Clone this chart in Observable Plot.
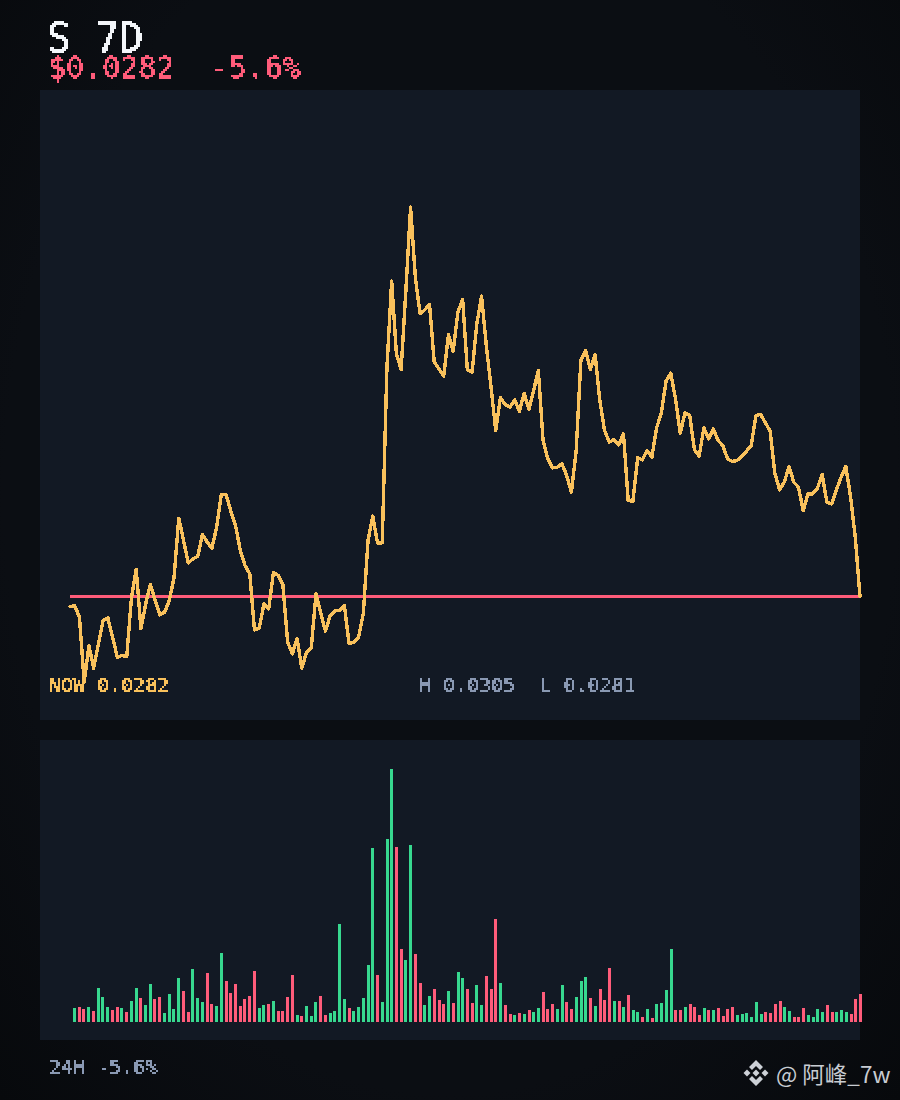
<!DOCTYPE html>
<html>
<head>
<meta charset="utf-8">
<script src="https://cdn.jsdelivr.net/npm/d3@7"></script>
<script src="https://cdn.jsdelivr.net/npm/@observablehq/plot@0.6"></script>
<style>
  html, body { margin: 0; padding: 0; background: #0a0d12; }
  #page { position: relative; width: 900px; height: 1100px; overflow: hidden;
          background: radial-gradient(ellipse at 50% 45%, #0b0e13 70%, #07090c 100%); }
  .mono { position: absolute; font-family: "DejaVu Sans Mono", monospace; white-space: pre; line-height: 1; filter: url(#pixel); }
  #title { left: 47px; top: 22px; font-size: 40px; line-height: 32px; height: 32px; color: #f3f6fa; }
  #quote { left: 48px; top: 56px; font-size: 30px; line-height: 24px; height: 24px; color: #ff5c7a; }
  #foot  { left: 49px; top: 1057px; font-size: 20px; color: #8a99b3; }
  #now   { left: 49px; top: 675px; font-size: 20px; color: #f9c15c; }
  #range { left: 419px; top: 675px; font-size: 20px; color: #8a99b3; }
  #pricePanel, #volumePanel { position: absolute; left: 40px; background: #121924; }
  #pricePanel { top: 90px; width: 820px; height: 630px; }
  #volumePanel { top: 740px; width: 820px; height: 300px; }
  #pricePanel svg, #volumePanel svg { display: block; background: transparent; overflow: visible; }
  #logo { position: absolute; left: 742px; top: 1059px; }
  #mark { position: absolute; left: 776px; top: 1059px; font: 22.5px "Noto Sans CJK SC", "Noto Sans", sans-serif; line-height: 28px; color: #c8ccd2; white-space: pre; }
</style>
</head>
<body>
<svg width="0" height="0" style="position:absolute">
  <filter id="pixel" x="-5%" y="-20%" width="110%" height="140%" color-interpolation-filters="sRGB">
    <feConvolveMatrix in="SourceGraphic" order="2" kernelMatrix="1 1 1 1" divisor="4" targetX="1" targetY="1" edgeMode="none" preserveAlpha="false" result="avg"/>
    <feFlood x="0" y="0" width="1" height="1" flood-color="#000" flood-opacity="1"/>
    <feComposite width="2" height="2" result="dot"/>
    <feTile result="grid"/>
    <feComposite in="avg" in2="grid" operator="in"/>
    <feConvolveMatrix order="2" kernelMatrix="1 1 1 1" divisor="1" targetX="0" targetY="0" edgeMode="none" preserveAlpha="false" result="mosaic"/>
    <feComponentTransfer in="mosaic">
      <feFuncA type="discrete" tableValues="0 1 1"/>
    </feComponentTransfer>
  </filter>
</svg>
<div id="page">
  <div class="mono" id="title"></div>
  <div class="mono" id="quote"></div>
  <div id="pricePanel"></div>
  <div id="volumePanel"></div>
  <div class="mono" id="now"></div>
  <div class="mono" id="range"></div>
  <div class="mono" id="foot"></div>
  <svg id="logo" width="28" height="28" viewBox="0 0 28 28" fill="#cdd1d7">
    <path d="M14 1 L21 8 L18 11 L14 7 L10 11 L7 8 Z"/>
    <path d="M14 27 L7 20 L10 17 L14 21 L18 17 L21 20 Z"/>
    <path d="M5 10.5 L8.5 14 L5 17.5 L1.5 14 Z"/>
    <path d="M23 10.5 L26.5 14 L23 17.5 L19.5 14 Z"/>
    <path d="M14 10.5 L17.5 14 L14 17.5 L10.5 14 Z"/>
  </svg>
  <div id="mark">@ 阿峰_7w</div>
</div>
<script>
const titleText = "S 7D";
const quoteText = "$0.0282  -5.6%";
const nowLabel = "NOW 0.0282";
const rangeLabel = "H 0.0305  L 0.0281";
const footText = "24H -5.6%";

// Hourly price, millionths of a dollar
const priceMicro = [
  28140,28144,28076,27686,27906,27770,27916,28056,28072,27956,
  27836,27846,27840,28196,28362,28006,28156,28272,28176,28090,
  28106,28176,28316,28670,28536,28402,28426,28440,28572,28526,
  28490,28616,28812,28812,28712,28626,28476,28386,28336,28000,
  28010,28156,28126,28344,28326,28272,27926,27856,27948,27770,
  27866,27892,28216,28104,27992,28086,28114,28116,28146,27916,
  27926,27956,28096,28536,28682,28522,28522,29576,30092,29656,
  29562,30036,30536,30116,29896,29920,29952,29606,29566,29522,
  29770,29672,29906,29982,29560,29546,29836,30002,29706,29456,
  29196,29392,29352,29336,29380,29310,29420,29322,29436,29556,
  29136,29026,28972,28976,28996,28926,28826,29076,29616,29676,
  29562,29652,29376,29196,29126,29142,29110,29176,28776,28772,
  29032,29020,29076,29036,29212,29300,29492,29540,29386,29180,
  29302,29286,29080,29042,29212,29146,29206,29136,29106,29026,
  29010,29016,29040,29072,29106,29286,29292,29242,29192,28940,
  28840,28886,28980,28886,28856,28716,28816,28816,28850,28932,
  28766,28756,28840,28916,28980,28800,28556,28200
];
const nowPrice = 28200;

// Volume for each hour after the first
const volumes = [
  14,15,13,15,11,34,25,15,12,15,14,10,21,34,24,17,38,23,25,9,
  28,13,44,31,10,53,24,20,49,18,16,69,41,29,38,16,23,26,51,14,
  17,18,21,11,11,25,47,7,6,16,6,20,26,7,9,11,98,23,14,11,
  15,24,57,174,47,20,183,253,175,73,62,177,68,39,17,26,33,22,18,31,
  19,50,44,33,19,37,17,46,33,103,39,17,8,7,9,8,12,10,14,30,
  13,18,13,37,20,13,25,41,45,24,16,33,22,54,21,21,15,27,12,10,
  5,13,4,18,19,32,73,12,12,15,18,15,7,14,12,12,14,6,13,15,
  7,8,9,5,20,8,10,9,18,21,15,11,5,5,14,7,5,13,10,17,
  10,10,12,10,8,23,28
];
// u = up hour, d = down hour, one letter per bar
const directions = [
  "udduduuudd",
  "uduuduuddu",
  "uuudduuudd",
  "uudddddddu",
  "ududdddudu",
  "uudduuuudu",
  "uuuuduuudd",
  "uudduudddu",
  "duudduuddd",
  "uddududuud",
  "dduudduuud",
  "udddududuu",
  "duduuuuddu",
  "dddududddd",
  "uuuuuudddd",
  "uuddduuuud",
  "duuuddd"
].join("");

const bars = volumes.map((volume, i) => ({hour: i + 1, volume, dir: directions[i]}));
const series = priceMicro.map((price, hour) => ({hour, price}));

const priceColor = "#f9c15c";
const pink = "#ff5c7a";
const green = "#37d88f";

document.getElementById("title").textContent = titleText;
document.getElementById("quote").textContent = quoteText;
document.getElementById("now").textContent = nowLabel;
document.getElementById("range").textContent = rangeLabel;
document.getElementById("foot").textContent = footText;

const priceChart = Plot.plot({
  width: 820, height: 630,
  marginTop: 0, marginBottom: 0, marginLeft: 29.5, marginRight: 0.5,
  style: {background: "transparent"},
  x: {domain: [0, 167], axis: null},
  y: {domain: [27456, 31236], axis: null},
  marks: [
    Plot.ruleY([nowPrice], {x1: 0, x2: 167, stroke: pink, strokeWidth: 3, shapeRendering: "crispEdges"}),
    Plot.line(series, {x: "hour", y: "price", stroke: priceColor, strokeWidth: 3.4, curve: "linear", shapeRendering: "crispEdges"})
  ]
});
document.getElementById("pricePanel").append(priceChart);

const volumeChart = Plot.plot({
  width: 820, height: 300,
  marginTop: 0, marginBottom: 18, marginLeft: 29.27, marginRight: 0,
  style: {background: "transparent"},
  x: {domain: [0, 167], axis: null, round: true},
  y: {domain: [0, 282], axis: null},
  color: {domain: ["u", "d"], range: [green, pink]},
  marks: [
    Plot.ruleX(bars, {x: "hour", y1: 0, y2: "volume", stroke: "dir", strokeWidth: 3, shapeRendering: "crispEdges"})
  ]
});
document.getElementById("volumePanel").append(volumeChart);
</script>
</body>
</html>
